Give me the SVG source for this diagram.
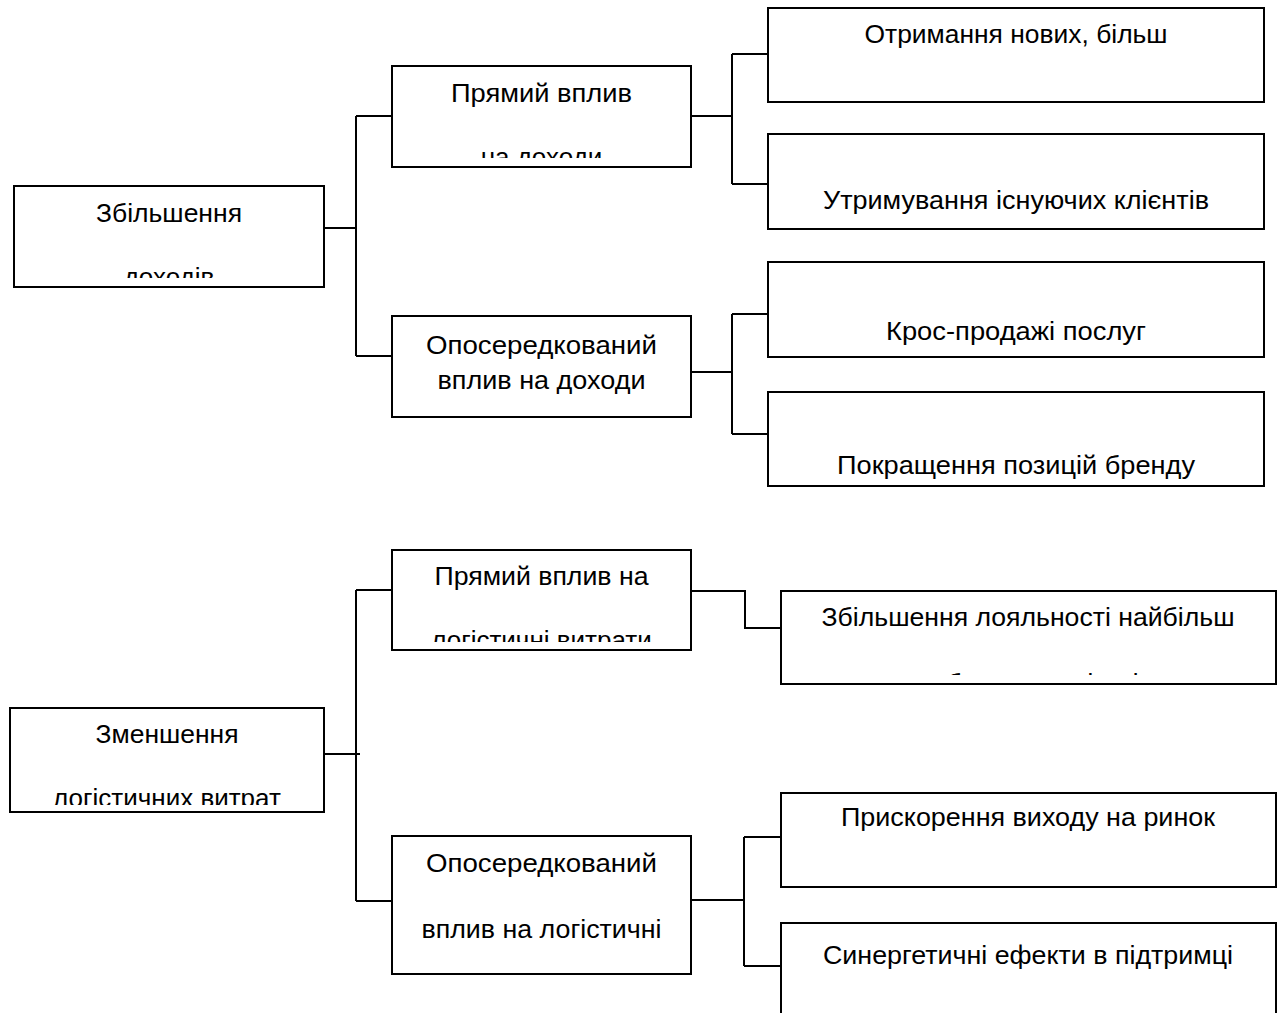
<svg xmlns="http://www.w3.org/2000/svg" width="1283" height="1013" viewBox="0 0 1283 1013">
<style>
.box{fill:#fff;stroke:#000;stroke-width:2}
.t{font-family:"Liberation Sans",Arial,sans-serif;font-size:26px;fill:#000;text-anchor:middle}
.c{fill:none;stroke:#000;stroke-width:2}
</style>
<defs>
<clipPath id="cl1"><rect x="14" y="186" width="310" height="92"/></clipPath>
<clipPath id="cl2"><rect x="392" y="66" width="299" height="92"/></clipPath>
<clipPath id="cl9"><rect x="392" y="550" width="299" height="92"/></clipPath>
<clipPath id="cl10"><rect x="781" y="591" width="495" height="84"/></clipPath>
<clipPath id="cl8"><rect x="10" y="708" width="314" height="97"/></clipPath>
</defs>
<rect width="1283" height="1013" fill="#fff"/>
<g id="connectors">
<path class="c" d="M324 228H356M356 116V356M356 116H392M356 356H392"/>
<path class="c" d="M691 116H732M732 54V184M732 54H768M732 184H768"/>
<path class="c" d="M691 372H732M732 314V434M732 314H768M732 434H768"/>
<path class="c" d="M324 754H360M356 590V901M356 590H392M356 901H392"/>
<path class="c" d="M691 591H745V628H781"/>
<path class="c" d="M691 900H744M744 837V966M744 837H781M744 966H781"/>
</g>
<g id="n1"><rect class="box" x="14" y="186" width="310" height="101"/>
<text class="t" x="169" y="222" textLength="146" lengthAdjust="spacingAndGlyphs">Збільшення</text>
<text class="t" x="169" y="286" clip-path="url(#cl1)">доходів</text></g>
<g id="n2"><rect class="box" x="392" y="66" width="299" height="101"/>
<text class="t" x="541.5" y="102" textLength="181" lengthAdjust="spacingAndGlyphs">Прямий вплив</text>
<text class="t" x="541.5" y="166" clip-path="url(#cl2)">на доходи</text></g>
<g id="n3"><rect class="box" x="768" y="8" width="496" height="94"/>
<text class="t" x="1016" y="43" textLength="303" lengthAdjust="spacingAndGlyphs">Отримання нових, більш</text></g>
<g id="n4"><rect class="box" x="768" y="134" width="496" height="95"/>
<text class="t" x="1016" y="209" textLength="386" lengthAdjust="spacingAndGlyphs">Утримування існуючих клієнтів</text></g>
<g id="n5"><rect class="box" x="392" y="316" width="299" height="101"/>
<text class="t" x="541.5" y="354" textLength="231" lengthAdjust="spacingAndGlyphs">Опосередкований</text>
<text class="t" x="541.5" y="389" textLength="208" lengthAdjust="spacingAndGlyphs">вплив на доходи</text></g>
<g id="n6"><rect class="box" x="768" y="262" width="496" height="95"/>
<text class="t" x="1016" y="340" textLength="260" lengthAdjust="spacingAndGlyphs">Крос-продажі послуг</text></g>
<g id="n7"><rect class="box" x="768" y="392" width="496" height="94"/>
<text class="t" x="1016" y="474" textLength="358" lengthAdjust="spacingAndGlyphs">Покращення позицій бренду</text></g>
<g id="n8"><rect class="box" x="10" y="708" width="314" height="104"/>
<text class="t" x="167" y="743" textLength="143" lengthAdjust="spacingAndGlyphs">Зменшення</text>
<text class="t" x="167" y="807" clip-path="url(#cl8)">логістичних витрат</text></g>
<g id="n9"><rect class="box" x="392" y="550" width="299" height="100"/>
<text class="t" x="541.5" y="585" textLength="214" lengthAdjust="spacingAndGlyphs">Прямий вплив на</text>
<text class="t" x="541.5" y="649" clip-path="url(#cl9)">логістичні витрати</text></g>
<g id="n10"><rect class="box" x="781" y="591" width="495" height="93"/>
<text class="t" x="1028" y="626" textLength="413" lengthAdjust="spacingAndGlyphs">Збільшення лояльності найбільш</text>
<text class="t" x="1028" y="692" clip-path="url(#cl10)">прибуткових клієнтів</text></g>
<g id="n11"><rect class="box" x="392" y="836" width="299" height="138"/>
<text class="t" x="541.5" y="872" textLength="231" lengthAdjust="spacingAndGlyphs">Опосередкований</text>
<text class="t" x="541.5" y="938" textLength="240" lengthAdjust="spacingAndGlyphs">вплив на логістичні</text></g>
<g id="n12"><rect class="box" x="781" y="793" width="495" height="94"/>
<text class="t" x="1028" y="826" textLength="374" lengthAdjust="spacingAndGlyphs">Прискорення виходу на ринок</text></g>
<g id="n13"><rect class="box" x="781" y="923" width="495" height="100"/>
<text class="t" x="1028" y="964" textLength="410" lengthAdjust="spacingAndGlyphs">Синергетичні ефекти в підтримці</text></g>
</svg>
